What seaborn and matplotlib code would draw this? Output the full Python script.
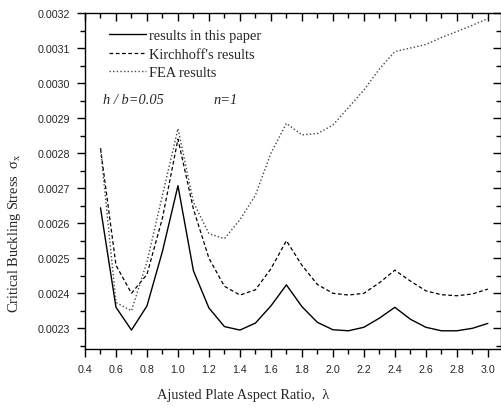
import numpy as np
import pandas as pd
import matplotlib.pyplot as plt
from matplotlib.ticker import MultipleLocator, FormatStrFormatter
import seaborn as sns

sns.set_style("ticks")
plt.rcParams['font.family'] = ['Liberation Sans', 'DejaVu Sans']
plt.rcParams['mathtext.fontset'] = 'custom'
plt.rcParams['mathtext.rm'] = 'Liberation Serif'
plt.rcParams['mathtext.it'] = 'Liberation Serif'

# aspect ratio values
lam = [0.5, 0.6, 0.7, 0.8, 0.9, 1.0, 1.1, 1.2, 1.3, 1.4, 1.5, 1.6, 1.7,
       1.8, 1.9, 2.0, 2.1, 2.2, 2.3, 2.4, 2.5, 2.6, 2.7, 2.8, 2.9, 3.0]

# results in this paper
paper = [0.002644, 0.00236, 0.002295, 0.002364, 0.00252, 0.002707, 0.002464,
         0.002358, 0.002305, 0.002295, 0.002315, 0.002364, 0.002424, 0.002362,
         0.002317, 0.002296, 0.002293, 0.002303, 0.002329, 0.00236, 0.002326,
         0.002303, 0.002293, 0.002293, 0.0023, 0.002314]

# Kirchhoff's results
kirchhoff = [0.002814, 0.00248, 0.0024, 0.002454, 0.002615, 0.00284, 0.00264,
             0.0025, 0.00242, 0.002395, 0.00241, 0.00247, 0.00255, 0.00248,
             0.002425, 0.0024, 0.002395, 0.0024, 0.00243, 0.002466, 0.002435,
             0.002407, 0.002396, 0.002393, 0.002398, 0.002412]

# FEA results
fea = [0.002814, 0.002374, 0.00235, 0.00249, 0.00268, 0.00287, 0.00266,
       0.00257, 0.002556, 0.00261, 0.00268, 0.0028, 0.002885, 0.002852,
       0.002856, 0.00288, 0.00293, 0.00298, 0.00304, 0.00309, 0.0031,
       0.00311, 0.00313, 0.003147, 0.003165, 0.003184]

df = pd.DataFrame({'lam': lam, 'paper': paper, 'kirchhoff': kirchhoff, 'fea': fea})

fig = plt.figure(figsize=(5.02, 4.10), dpi=100)
ax = fig.add_axes([85 / 502, 1 - 350 / 410, (502 - 85) / 502 - 0.002, 336 / 410])

sns.lineplot(data=df, x='lam', y='paper', ax=ax, color='black', lw=1.0,
             label='results in this paper')
sns.lineplot(data=df, x='lam', y='kirchhoff', ax=ax, color='black', lw=0.9,
             linestyle=(0, (3, 2)), label="Kirchhoff's results")
sns.lineplot(data=df, x='lam', y='fea', ax=ax, color='#444444', lw=1.0,
             linestyle=(0, (1, 1.6)), label='FEA results')

ax.set_xlim(0.4, 3.085)
ax.set_ylim(0.002241, 0.0032)
ax.xaxis.set_major_locator(MultipleLocator(0.2))
ax.xaxis.set_minor_locator(MultipleLocator(0.1))
ax.yaxis.set_major_locator(MultipleLocator(0.0001))
ax.yaxis.set_minor_locator(MultipleLocator(0.00005))
ax.xaxis.set_major_formatter(FormatStrFormatter('%.1f'))
ax.yaxis.set_major_formatter(FormatStrFormatter('%.4f'))

ax.tick_params(which='both', labelsize=7.7, color='black', width=1.0,
               top=True, right=True)
ax.tick_params(which='major', length=6, pad=5)
ax.tick_params(which='minor', length=3.5)
ax.tick_params(axis='both', which='both', direction='out')
# top and right ticks point inward
for t in ax.xaxis.get_ticklines(minor=False)[1::2] + ax.xaxis.get_ticklines(minor=True)[1::2]:
    t.set_marker(3)
for t in ax.yaxis.get_ticklines(minor=False)[1::2] + ax.yaxis.get_ticklines(minor=True)[1::2]:
    t.set_marker(0)
for s in ax.spines.values():
    s.set_linewidth(1.0)
    s.set_color('black')

ax.set_xlabel('Ajusted Plate Aspect Ratio,  λ', family='Liberation Serif', fontsize=10.4)
ax.set_ylabel('Critical Buckling Stress  $\\sigma_x$', family='Liberation Serif', fontsize=10.4)
ax.xaxis.set_label_coords(0.379, -0.115)
ax.yaxis.set_label_coords(-0.15, 0.348)

leg = ax.legend(loc='upper left', bbox_to_anchor=(0.045, 0.97), frameon=False,
                prop={'family': 'Liberation Serif', 'size': 10.4},
                handlelength=2.5, handletextpad=0.25, labelspacing=0.38,
                borderaxespad=0)

ax.text(0.043, 0.742, 'h / b=0.05', transform=ax.transAxes, style='italic',
        family='Liberation Serif', fontsize=10.4, va='center')
ax.text(0.31, 0.742, 'n=1', transform=ax.transAxes, style='italic',
        family='Liberation Serif', fontsize=10.4, va='center')

fig.savefig('out.png', dpi=100)
